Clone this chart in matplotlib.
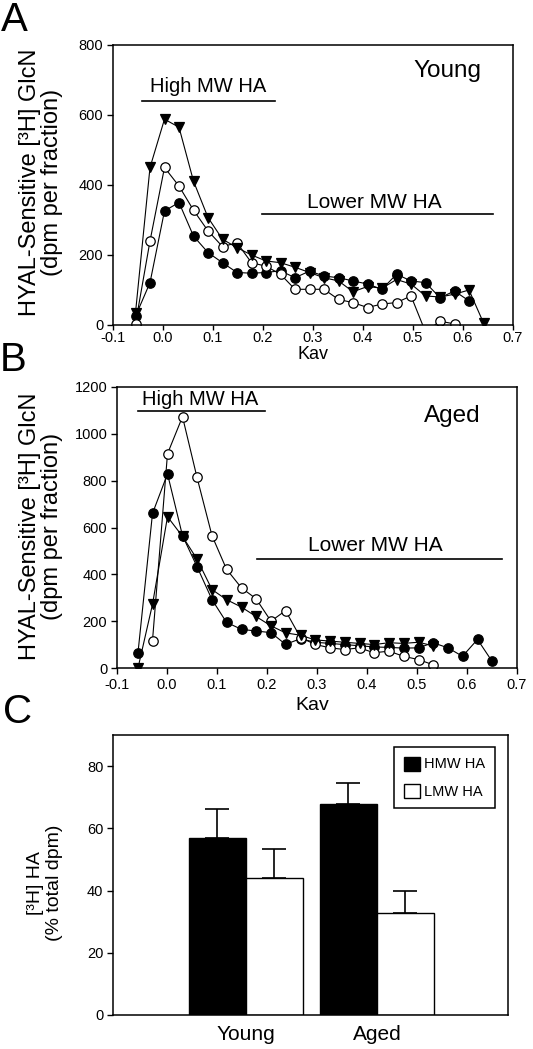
import matplotlib
matplotlib.use('Agg')
import numpy as np
import matplotlib.pyplot as plt
from matplotlib.patches import Patch

plt.rcParams['font.family'] = ['Liberation Sans', 'DejaVu Sans']

# panel A - young
kav_young = [-0.055, -0.026, 0.003, 0.032, 0.061, 0.090, 0.119, 0.148, 0.177, 0.206, 0.235, 0.264, 0.293,
             0.322, 0.351, 0.380, 0.409, 0.438, 0.467, 0.496, 0.525, 0.554, 0.583, 0.612, 0.641]
young_tri = [35, 450, 588, 565, 411, 307, 245, 221, 200, 183, 178, 165, 150, 135, 126, 95, 110, 105, 130,
             117, 83, 80, 88, 100, 6]
young_open = [4, 240, 450, 397, 328, 269, 224, 235, 178, 168, 145, 102, 102, 102, 73, 64, 50, 60, 64, 83,
              -20, 11, 3]
young_filled = [25, 121, 326, 350, 254, 207, 178, 150, 148, 150, 155, 135, 154, 140, 135, 126, 117, 102, 145,
                126, 121, 78, 97, 69]

# panel B - aged
kav_aged = [-0.058, -0.029, 0.001, 0.031, 0.060, 0.090, 0.119, 0.149, 0.178, 0.208, 0.237, 0.267, 0.296,
            0.326, 0.355, 0.385, 0.414, 0.444, 0.473, 0.503, 0.532, 0.562, 0.591, 0.621, 0.650]
aged_filled = [66, 660, 829, 565, 433, 292, 195, 165, 158, 151, 101, 125, 110, 105, 100, 95, 90, 88, 85, 86,
               108, 86, 50, 122, 29]
aged_open = [117, 915, 1073, 814, 565, 422, 342, 296, 200, 245, 130, 101, 86, 79, 86, 65, 72, 50, 36, 14]
aged_tri = [0, 272, 646, 562, 465, 335, 292, 260, 220, 180, 150, 140, 120, 115, 110, 105, 100, 108, 105, 110, 95]

# panel C
groups = ['Young', 'Aged']
hmw = [56.9, 67.7]
hmw_err = [9.2, 7.0]
lmw = [43.9, 32.9]
lmw_err = [9.4, 7.0]

W, H = 533, 1049
fig = plt.figure(figsize=(W / 100, H / 100), dpi=100)


def box(l, t, r, b):
    return [l / W, 1 - b / H, (r - l) / W, (b - t) / H]


def style(ax):
    for s in ax.spines.values():
        s.set_linewidth(1.1)
    ax.tick_params(direction='out', length=4, width=1, labelsize=10.5, pad=3)


def series(ax, x, y, marker, face):
    ax.plot(x, y, '-', color='k', lw=0.8, marker=marker, ms=6.8, mfc=face, mec='k', mew=0.9)


kav_ticks = np.round(np.arange(-0.1, 0.71, 0.1), 1)

# A
axA = fig.add_axes(box(113, 45, 513, 325))
style(axA)
axA.tick_params(axis='x', length=3.5, pad=0.5)
series(axA, kav_young[:24], young_filled, 'o', 'k')
series(axA, kav_young[:23], young_open, 'o', 'w')
series(axA, kav_young, young_tri, 'v', 'k')
axA.set_xlim(-0.1, 0.7)
axA.set_ylim(0, 800)
axA.set_yticks(range(0, 801, 200))
axA.set_xticks(kav_ticks)
axA.set_xticklabels(['%.1f' % t for t in kav_ticks])
axA.plot([-0.042, 0.224], [641, 641], color='k', lw=1.2)
axA.text(0.09, 667, 'High MW HA', ha='center', va='baseline', fontsize=14.5)
axA.plot([0.197, 0.659], [317, 317], color='k', lw=1.2)
axA.text(0.423, 334, 'Lower MW HA', ha='center', va='baseline', fontsize=15)
axA.text(0.568, 709, 'Young', ha='center', va='baseline', fontsize=17.5)

# B
axB = fig.add_axes(box(117, 387, 517, 668))
style(axB)
series(axB, kav_aged, aged_filled, 'o', 'k')
series(axB, kav_aged[1:21], aged_open, 'o', 'w')
series(axB, kav_aged[:21], aged_tri, 'v', 'k')
axB.set_xlim(-0.1, 0.7)
axB.set_ylim(0, 1200)
axB.set_yticks(range(0, 1201, 200))
axB.set_xticks(kav_ticks)
axB.set_xticklabels(['%.1f' % t for t in kav_ticks])
axB.plot([-0.059, 0.196], [1098, 1098], color='k', lw=1.2)
axB.text(0.066, 1122, 'High MW HA', ha='center', va='baseline', fontsize=14.5)
axB.plot([0.179, 0.669], [464, 464], color='k', lw=1.2)
axB.text(0.417, 499, 'Lower MW HA', ha='center', va='baseline', fontsize=15)
axB.text(0.571, 1051, 'Aged', ha='center', va='baseline', fontsize=17.5)

# C
axC = fig.add_axes(box(113, 735, 508, 1015))
style(axC)
x = np.arange(len(groups))
w = 0.435
ekw = dict(ecolor='k', elinewidth=1.2, capsize=8.5, capthick=1.2, zorder=1)
axC.bar(x - w / 2, hmw, w, color='k', edgecolor='k', lw=1, zorder=2,
        yerr=[[0] * len(hmw), hmw_err], error_kw=ekw, label='HMW HA')
axC.bar(x + w / 2, lmw, w, color='w', edgecolor='k', lw=1, zorder=2,
        yerr=[[0] * len(lmw), lmw_err], error_kw=ekw, label='LMW HA')
axC.set_xlim(-1.013, 2.0)
axC.set_ylim(0, 90)
axC.set_yticks(range(0, 81, 20))
axC.set_xticks(x)
axC.set_xticklabels(groups, fontsize=15)
axC.tick_params(axis='x', length=0, pad=7)
handles = [Patch(facecolor='k', edgecolor='k', label='HMW HA'),
           Patch(facecolor='w', edgecolor='k', label='LMW HA')]
leg = axC.legend(handles=handles, loc='upper right', bbox_to_anchor=(0.967, 0.957), borderaxespad=0,
                 fontsize=10.5, fancybox=False, edgecolor='k', framealpha=1, handlelength=1.1,
                 handleheight=1.1, handletextpad=0.3, labelspacing=0.85, borderpad=0.65)
leg.get_frame().set_linewidth(1.1)

# axis titles
ylab = 'HYAL-Sensitive [\u00b3H] GlcN\n(dpm per fraction)'
fig.text(41 / W, 1 - 182 / H, ylab, rotation=90, ha='center', va='center', fontsize=17, linespacing=1.0)
fig.text(41 / W, 1 - 526 / H, ylab, rotation=90, ha='center', va='center', fontsize=17, linespacing=1.0)
fig.text(45 / W, 1 - 883 / H, '[\u00b3H] HA\n(% total dpm)', rotation=90, ha='center', va='center',
         fontsize=14, linespacing=1.1)
fig.text(313 / W, 1 - 354 / H, 'Kav', ha='center', va='center', fontsize=13)
fig.text(312 / W, 1 - 705 / H, 'Kav', ha='center', va='center', fontsize=14)

# panel letters
fig.text(14 / W, 1 - 20 / H, 'A', ha='center', va='center', fontsize=29)
fig.text(13 / W, 1 - 360 / H, 'B', ha='center', va='center', fontsize=29)
fig.text(18 / W, 1 - 712 / H, 'C', ha='center', va='center', fontsize=29)

fig.savefig('out.png', dpi=100)
